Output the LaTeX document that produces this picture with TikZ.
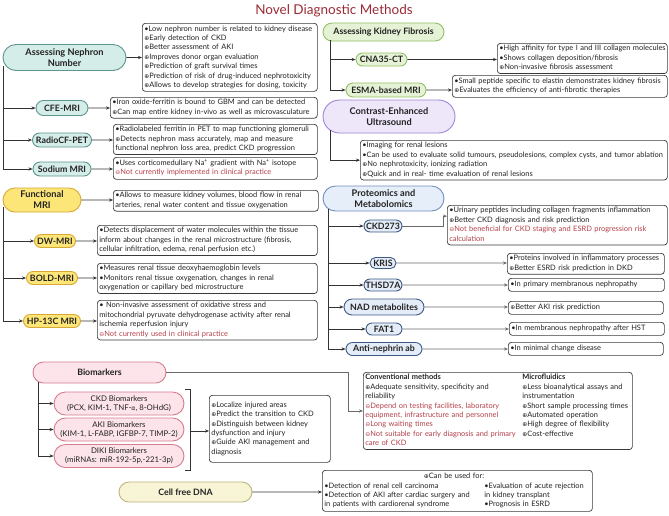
\documentclass[tikz,border=0pt]{standalone}
\usepackage{fontspec}
\setmainfont{Lato}
\newfontfamily\symf{DejaVu Sans}[Scale=0.8]
\usetikzlibrary{shapes.misc,arrows.meta}
\definecolor{ink}{HTML}{222222}
\definecolor{titlec}{HTML}{9B2B36}
\definecolor{negc}{HTML}{B5404A}
\definecolor{boxc}{HTML}{3A3A3A}
\definecolor{arrc}{HTML}{333333}
\definecolor{garrc}{HTML}{6A6A6A}
\definecolor{tealf}{HTML}{D5EDE9}
\definecolor{tealb}{HTML}{5E958E}
\definecolor{yelf}{HTML}{FDE678}
\definecolor{yelb}{HTML}{D9A834}
\definecolor{grnf}{HTML}{E5F2D6}
\definecolor{grnb}{HTML}{93C066}
\definecolor{lavf}{HTML}{EEE7FA}
\definecolor{lavb}{HTML}{9D86D2}
\definecolor{bluf}{HTML}{E6EEF9}
\definecolor{blub}{HTML}{7390BE}
\definecolor{sbluf}{HTML}{E4ECF8}
\definecolor{sblub}{HTML}{3E5B86}
\definecolor{pnkf}{HTML}{FCE4EA}
\definecolor{pnkb}{HTML}{D57D8E}
\definecolor{crmf}{HTML}{F8F4D6}
\definecolor{crmb}{HTML}{BEB37B}
\newcommand{\opl}{{\symf ⊕}}
\newcommand{\omn}{{\symf ⊖}}
\newcommand{\bul}{•}
\newcommand{\negt}[1]{\textcolor{negc}{#1}}
\newcommand{\blines}[1]{\begin{tabular}{@{}l@{}}#1\end{tabular}}
\newcommand{\lcell}[2][157pt]{\makebox[#1][l]{#2}}
\tikzset{
  pill/.style={rounded rectangle, draw, line width=0.9pt, inner sep=1pt, align=center, text=ink},
  tealpill/.style={pill, fill=tealf, draw=tealb},
  yelpill/.style={pill, fill=yelf, draw=yelb},
  grnpill/.style={pill, fill=grnf, draw=grnb},
  lavpill/.style={pill, fill=lavf, draw=lavb},
  blupill/.style={pill, fill=bluf, draw=blub},
  sblupill/.style={pill, fill=sbluf, draw=sblub},
  pnkpill/.style={pill, fill=pnkf, draw=pnkb},
  crmpill/.style={pill, fill=crmf, draw=crmb},
  bigl/.style={font=\bfseries\fontsize{9.2}{11}\selectfont},
  smll/.style={font=\bfseries\fontsize{8.8}{10}\selectfont},
  bml/.style={font=\fontsize{7.8}{9}\selectfont},
  tbox/.style={draw=boxc, fill=white, rounded corners=3pt, line width=0.7pt, inner xsep=2pt, inner ysep=1pt, align=left, anchor=north west, font=\fontsize{7.45}{9.4}\selectfont, text=ink},
  arr/.style={draw=arrc, line width=0.6pt, -{Stealth[length=4pt,width=3.2pt]}},
  garr/.style={arr, draw=garrc},
  ln/.style={draw=arrc, line width=0.6pt},
  titlest/.style={font=\fontsize{13.5}{15}\selectfont, text=titlec}
}
\begin{document}
\begin{tikzpicture}[x=1pt,y=-1pt]
\useasboundingbox[fill=white] (0,0) rectangle (669,515);
\node[titlest] (title) at (334,11) {Novel Diagnostic Methods};

% ---------- Assessing nephron number ----------
\node[tealpill, bigl, minimum width=125pt, minimum height=26pt] (neph) at (64.5,57.5) {Assessing Nephron\\Number};
\node[tbox, text width=171pt, minimum height=68pt] (b1) at (142,23) {\blines{\bul Low nephron number is related to kidney disease\\
\opl Early detection of CKD\\
\opl Better assessment of AKI\\
\opl Improves donor organ evaluation\\
\opl Prediction of graft survival times\\
\opl Prediction of risk of drug-induced nephrotoxicity\\
\opl Allows to develop strategies for dosing, toxicity}};
\node[tealpill, smll, minimum width=54pt, minimum height=15pt] (cfe) at (62,108) {CFE-MRI};
\node[tbox, text width=203pt, minimum height=20pt] (b2) at (110,97) {\blines{\bul Iron oxide-ferritin is bound to GBM and can be detected\\
\opl Can map entire kidney in-vivo as well as microvasculature}};
\node[tealpill, smll, minimum width=61pt, minimum height=14pt] (radio) at (62,140) {RadioCF-PET};
\node[tbox, text width=200pt, minimum height=28pt] (b3) at (113,124) {\blines{\bul Radiolabeled ferritin in PET to map functioning glomeruli\\
\opl Detects nephron mass accurately, map and measure\\
functional nephron loss area, predict CKD progression}};
\node[tealpill, smll, minimum width=60pt, minimum height=14pt] (sod) at (62,169) {Sodium MRI};
\node[tbox, text width=200pt, minimum height=22pt] (b4) at (113,157) {\blines{\bul Uses corticomedullary Na\textsuperscript{+} gradient with Na\textsuperscript{+} isotope\\
\negt{\omn Not currently implemented in clinical practice}}};
\coordinate (tn) at (3,66);
\draw[arr] (neph) -- (neph -| b1.west);
\draw[arr] (tn) |- (cfe.west);
\draw[arr] (tn) |- (radio.west);
\draw[arr] (tn) |- (sod.west);
\draw[arr] (cfe) -- (cfe -| b2.west);
\draw[arr] (radio) -- (radio -| b3.west);
\draw[arr] (sod) -- (sod -| b4.west);

% ---------- Functional MRI ----------
\node[yelpill, bigl, minimum width=80pt, minimum height=24pt] (fmri) at (42,200) {Functional\\MRI};
\node[tbox, text width=201pt, minimum height=20pt] (b5) at (113,190) {\blines{\bul Allows to measure kidney volumes, blood flow in renal\\
arteries, renal water content and tissue oxygenation}};
\node[yelpill, smll, minimum width=43pt, minimum height=13pt] (dw) at (55,241) {DW-MRI};
\node[tbox, text width=216pt, minimum height=30pt] (b6) at (97,225) {\blines{\bul Detects displacement of water molecules within the tissue\\
inform about changes in the renal microstructure (fibrosis,\\
cellular infiltration, edema, renal perfusion etc.)}};
\node[yelpill, smll, minimum width=53pt, minimum height=13pt] (bold) at (52,278) {BOLD-MRI};
\node[tbox, text width=216pt, minimum height=30pt] (b7) at (97,263) {\blines{\bul Measures renal tissue deoxyhaemoglobin levels\\
\bul Monitors renal tissue oxygenation, changes in renal\\
oxygenation or capillary bed microstructure}};
\node[yelpill, smll, minimum width=59pt, minimum height=13pt] (hp) at (52,321) {HP-13C MRI};
\node[tbox, text width=216pt, minimum height=39pt] (b8) at (97,300) {\blines{\bul{} Non-invasive assessment of oxidative stress and\\
mitochondrial pyruvate dehydrogenase activity after renal\\
ischemia reperfusion injury\\
\negt{\omn Not currently used in clinical practice}}};
\coordinate (tm) at (3,207);
\draw[arr] (fmri) -- (fmri -| b5.west);
\draw[arr] (tm) |- (dw.west);
\draw[arr] (tm) |- (bold.west);
\draw[arr] (tm) |- (hp.west);
\draw[arr] (dw) -- (dw -| b6.west);
\draw[arr] (bold) -- (bold -| b7.west);
\draw[arr] (hp) -- (hp -| b8.west);

% ---------- Kidney fibrosis ----------
\node[grnpill, smll, minimum width=123pt, minimum height=18pt] (fib) at (383.5,32) {Assessing Kidney Fibrosis};
\node[grnpill, smll, minimum width=53pt, minimum height=13pt] (cna) at (381.5,59.5) {CNA35-CT};
\node[tbox, text width=166pt, minimum height=29pt] (b9) at (497,43) {\blines{\bul High affinity for type I and III collagen molecules\\
\bul Shows collagen deposition/fibrosis\\
\opl Non-invasive fibrosis assessment}};
\node[grnpill, smll, minimum width=82pt, minimum height=14pt] (esma) at (386,90) {ESMA-based MRI};
\node[tbox, text width=211pt, minimum height=22pt] (b10) at (452,75) {\blines{\bul Small peptide specific to elastin demonstrates kidney fibrosis\\
\opl Evaluates the efficiency of anti-fibrotic therapies}};
\coordinate (tf) at (330,40);
\draw[arr] (tf) |- (cna.west);
\draw[arr] (tf) |- (esma.west);
\draw[arr] (cna) -- (cna -| b9.west);
\draw[arr] (esma) -- (esma -| b10.west);

% ---------- CEUS ----------
\node[lavpill, bigl, minimum width=134pt, minimum height=33pt] (ceus) at (389,116.5) {Contrast-Enhanced\\Ultrasound};
\node[tbox, text width=303pt, minimum height=38pt] (b11) at (360,140) {\blines{\bul Imaging for renal lesions\\
\bul Can be used to evaluate solid tumours, pseudolesions, complex cysts, and tumor ablation\\
\opl No nephrotoxicity, ionizing radiation\\
\opl Quick and in real- time evaluation of renal lesions}};
\coordinate (tc) at (330,130);
\draw[arr] (tc) |- (b11.west);

% ---------- Proteomics ----------
\node[blupill, bigl, minimum width=123pt, minimum height=25pt] (prot) at (383.5,198.5) {Proteomics and\\Metabolomics};
\node[sblupill, smll, minimum width=40pt, minimum height=12pt] (ckd) at (383,226) {CKD273};
\node[tbox, text width=216pt, minimum height=38pt] (b12) at (447,205) {\blines{\bul Urinary peptides including collagen fragments inflammation\\
\opl Better CKD diagnosis and risk prediction\\
\negt{\omn Not beneficial for CKD staging and ESRD progression risk}\\
\negt{calculation}}};
\node[sblupill, smll, minimum width=28pt, minimum height=11pt] (kris) at (383,263) {KRIS};
\node[tbox, text width=153pt, minimum height=19pt] (b13) at (507,253) {\blines{\bul Proteins involved in inflammatory processes\\
\opl Better ESRD risk prediction in DKD}};
\node[sblupill, smll, minimum width=40pt, minimum height=12pt] (thsd) at (383,285) {THSD7A};
\node[tbox, text width=152pt, minimum height=13pt] (b14) at (508,278) {\blines{\bul In primary membranous nephropathy}};
\node[sblupill, smll, minimum width=82pt, minimum height=16pt] (nad) at (384,307) {NAD metabolites};
\node[tbox, text width=151pt, minimum height=13pt] (b15) at (508,301) {\blines{\opl Better AKI risk prediction}};
\node[sblupill, smll, minimum width=38pt, minimum height=12pt] (fat) at (384,329) {FAT1};
\node[tbox, text width=151pt, minimum height=13pt] (b16) at (509,322) {\blines{\bul In membranous nephropathy after HST}};
\node[sblupill, smll, minimum width=78pt, minimum height=13pt] (anti) at (384,349) {Anti-nephrin ab};
\node[tbox, text width=151pt, minimum height=13pt] (b17) at (508,342) {\blines{\bul In minimal change disease}};
\coordinate (tp) at (328,209);
\coordinate (ckdel) at (443,226);
\draw[arr] (tp) |- (ckd.west);
\draw[arr] (tp) |- (kris.west);
\draw[arr] (tp) |- (thsd.west);
\draw[arr] (tp) |- (nad.west);
\draw[arr] (tp) |- (fat.west);
\draw[arr] (tp) |- (anti.west);
\draw[garr] (ckd.east) -- (ckdel) |- ([yshift=9pt]b12.west);
\draw[garr] (kris) -- (kris -| b13.west);
\draw[garr] (thsd) -- (thsd -| b14.west);
\draw[garr] (nad) -- (nad -| b15.west);
\draw[garr] (fat) -- (fat -| b16.west);
\draw[garr] (anti) -- (anti -| b17.west);

% ---------- Biomarkers ----------
\node[pnkpill, smll, minimum width=135pt, minimum height=21pt] (bio) at (99.5,372.5) {Biomarkers};
\node[pnkpill, bml, minimum width=132pt, minimum height=23pt] (ckdb) at (119,403.5) {CKD Biomarkers\\(PCX, KIM-1, TNF-{\symf α}, 8-OHdG)};
\node[pnkpill, bml, minimum width=132pt, minimum height=23pt] (akib) at (119,429.5) {AKI Biomarkers\\(KIM-1, L-FABP, IGFBP-7, TIMP-2)};
\node[pnkpill, bml, minimum width=132pt, minimum height=23pt] (dikib) at (119,456) {DIKI Biomarkers\\(miRNAs: miR-192-5p,-221-3p)};
\node[tbox, text width=117pt, minimum height=67pt] (b18) at (209,395) {\blines{\opl Localize injured areas\\
\opl Predict the transition to CKD\\
\opl Distinguish between kidney\\
dysfunction and injury\\
\opl Guide AKI management and\\
diagnosis}};
\node[tbox, text width=265pt, minimum height=76pt] (conv) at (363,372) {\begin{tabular}{@{}l@{}l@{}}
\lcell{\textbf{Conventional methods}} & \textbf{Microfluidics}\\
\lcell{\opl Adequate sensitivity, specificity and} & \opl Less bioanalytical assays and\\
\lcell{reliability} & instrumentation\\
\lcell{\negt{\omn Depend on testing facilities, laboratory}} & \opl Short sample processing times\\
\lcell{\negt{equipment, infrastructure and personnel}} & \opl Automated operation\\
\lcell{\negt{\omn Long waiting times}} & \opl High degree of flexibility\\
\lcell{\negt{\omn Not suitable for early diagnosis and primary}} & \opl Cost-effective\\
\lcell{\negt{care of CKD}} & 
\end{tabular}};
\coordinate (tb) at (38,382);
\coordinate (brk) at (190,431);
\coordinate (bioel) at (348,0);
\draw[arr] (tb) |- (ckdb.west);
\draw[arr] (tb) |- (akib.west);
\draw[arr] (tb) |- (dikib.west);
\draw[ln] (ckdb.north east -| 185,0) ++(0,-2) -- ++(5,0) -- (190,470) -- (185,470);
\draw[arr] (brk) -- (brk -| b18.west);
\draw[garr] (bio.east) -- (bio.east -| bioel) |- (conv.west);

% ---------- Cell free DNA ----------
\node[crmpill, smll, minimum width=135pt, minimum height=20pt] (cfd) at (185.5,492) {Cell free DNA};
\node[tbox, text width=266pt, minimum height=41pt] (b19) at (322,470) {\begin{tabular}{@{}l@{}l@{}}
\multicolumn{2}{c}{\opl Can be used for:}\\
\lcell[160pt]{\bul Detection of renal cell carcinoma} & \bul Evaluation of acute rejection\\
\lcell[160pt]{\bul Detection of AKI after cardiac surgery and} & in kidney transplant\\
\lcell[160pt]{in patients with cardiorenal syndrome} & \bul Prognosis in ESRD
\end{tabular}};
\draw[arr] (cfd) -- (cfd -| b19.west);
\end{tikzpicture}
\end{document}
